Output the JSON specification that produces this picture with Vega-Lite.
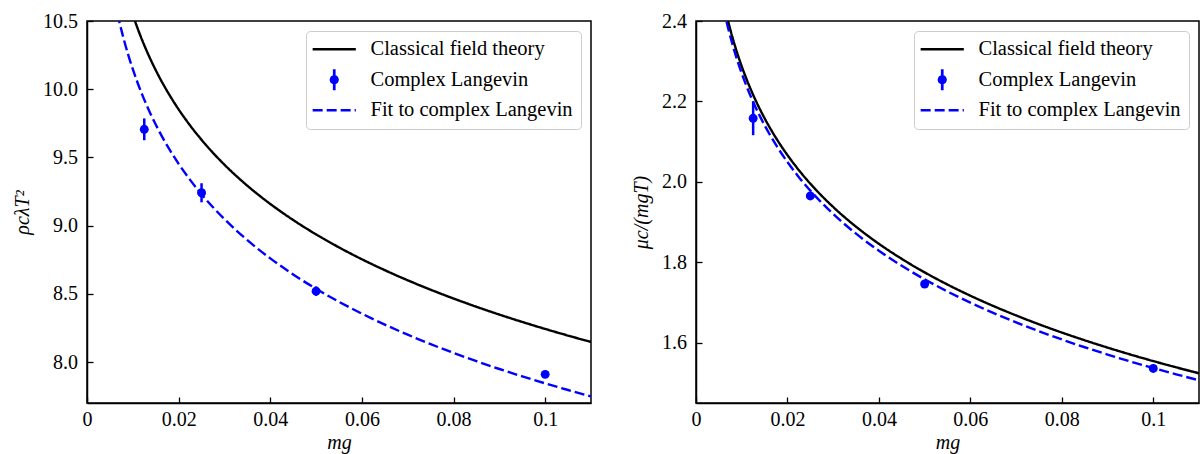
{
  "$schema": "https://vega.github.io/schema/vega-lite/v6.json",
  "background": "white",
  "padding": {"left": 11, "top": 10, "right": 0, "bottom": 0},
  "config": {
    "font": "Liberation Serif",
    "view": {"stroke": "black", "strokeWidth": 1.5},
    "axis": {"domainColor": "black", "domainWidth": 1.5, "tickColor": "black", "tickWidth": 1.3, "tickSize": -6, "labelFont": "Liberation Serif", "labelFontSize": 20, "labelColor": "black", "titleFont": "Liberation Serif", "titleFontSize": 20, "titleFontWeight": "normal", "titleFontStyle": "italic", "titleColor": "black", "grid": false, "labelFlush": false, "labelOverlap": false},
    "axisX": {"labelPadding": 12.5, "titlePadding": 3},
    "axisY": {"labelPadding": 15.5, "titlePadding": 10},
    "legend": {"labelFont": "Liberation Serif", "labelFontSize": 20.5, "labelColor": "black", "strokeColor": "#cccccc", "fillColor": "rgba(255,255,255,0.8)", "cornerRadius": 4, "labelLimit": 400}
  },
  "datasets": {
    "leftCurves": [
      {"mg":0.006,"y":11.0562,"series":"Classical field theory"},{"mg":0.007,"y":10.902,"series":"Classical field theory"},{"mg":0.008,"y":10.7685,"series":"Classical field theory"},{"mg":0.009,"y":10.6507,"series":"Classical field theory"},{"mg":0.01,"y":10.5453,"series":"Classical field theory"},{"mg":0.011,"y":10.45,"series":"Classical field theory"},{"mg":0.012,"y":10.363,"series":"Classical field theory"},{"mg":0.013,"y":10.283,"series":"Classical field theory"},{"mg":0.014,"y":10.2089,"series":"Classical field theory"},{"mg":0.015,"y":10.1399,"series":"Classical field theory"},{"mg":0.016,"y":10.0753,"series":"Classical field theory"},{"mg":0.018,"y":9.9576,"series":"Classical field theory"},{"mg":0.02,"y":9.8522,"series":"Classical field theory"},{"mg":0.0225,"y":9.7344,"series":"Classical field theory"},{"mg":0.025,"y":9.6291,"series":"Classical field theory"},{"mg":0.0275,"y":9.5337,"series":"Classical field theory"},{"mg":0.03,"y":9.4467,"series":"Classical field theory"},{"mg":0.035,"y":9.2926,"series":"Classical field theory"},{"mg":0.04,"y":9.1591,"series":"Classical field theory"},{"mg":0.045,"y":9.0413,"series":"Classical field theory"},{"mg":0.05,"y":8.9359,"series":"Classical field theory"},{"mg":0.055,"y":8.8406,"series":"Classical field theory"},{"mg":0.06,"y":8.7536,"series":"Classical field theory"},{"mg":0.065,"y":8.6735,"series":"Classical field theory"},{"mg":0.07,"y":8.5994,"series":"Classical field theory"},{"mg":0.075,"y":8.5304,"series":"Classical field theory"},{"mg":0.08,"y":8.4659,"series":"Classical field theory"},{"mg":0.085,"y":8.4053,"series":"Classical field theory"},{"mg":0.09,"y":8.3481,"series":"Classical field theory"},{"mg":0.095,"y":8.2941,"series":"Classical field theory"},{"mg":0.1,"y":8.2428,"series":"Classical field theory"},{"mg":0.105,"y":8.194,"series":"Classical field theory"},{"mg":0.11,"y":8.1474,"series":"Classical field theory"},
      {"mg":0.006,"y":10.6573,"series":"Fit to complex Langevin"},{"mg":0.007,"y":10.5031,"series":"Fit to complex Langevin"},{"mg":0.008,"y":10.3696,"series":"Fit to complex Langevin"},{"mg":0.009,"y":10.2518,"series":"Fit to complex Langevin"},{"mg":0.01,"y":10.1464,"series":"Fit to complex Langevin"},{"mg":0.011,"y":10.0511,"series":"Fit to complex Langevin"},{"mg":0.012,"y":9.9641,"series":"Fit to complex Langevin"},{"mg":0.013,"y":9.8841,"series":"Fit to complex Langevin"},{"mg":0.014,"y":9.81,"series":"Fit to complex Langevin"},{"mg":0.015,"y":9.741,"series":"Fit to complex Langevin"},{"mg":0.016,"y":9.6764,"series":"Fit to complex Langevin"},{"mg":0.018,"y":9.5586,"series":"Fit to complex Langevin"},{"mg":0.02,"y":9.4533,"series":"Fit to complex Langevin"},{"mg":0.0225,"y":9.3355,"series":"Fit to complex Langevin"},{"mg":0.025,"y":9.2301,"series":"Fit to complex Langevin"},{"mg":0.0275,"y":9.1348,"series":"Fit to complex Langevin"},{"mg":0.03,"y":9.0478,"series":"Fit to complex Langevin"},{"mg":0.035,"y":8.8937,"series":"Fit to complex Langevin"},{"mg":0.04,"y":8.7601,"series":"Fit to complex Langevin"},{"mg":0.045,"y":8.6424,"series":"Fit to complex Langevin"},{"mg":0.05,"y":8.537,"series":"Fit to complex Langevin"},{"mg":0.055,"y":8.4417,"series":"Fit to complex Langevin"},{"mg":0.06,"y":8.3547,"series":"Fit to complex Langevin"},{"mg":0.065,"y":8.2746,"series":"Fit to complex Langevin"},{"mg":0.07,"y":8.2005,"series":"Fit to complex Langevin"},{"mg":0.075,"y":8.1315,"series":"Fit to complex Langevin"},{"mg":0.08,"y":8.067,"series":"Fit to complex Langevin"},{"mg":0.085,"y":8.0064,"series":"Fit to complex Langevin"},{"mg":0.09,"y":7.9492,"series":"Fit to complex Langevin"},{"mg":0.095,"y":7.8951,"series":"Fit to complex Langevin"},{"mg":0.1,"y":7.8438,"series":"Fit to complex Langevin"},{"mg":0.105,"y":7.7951,"series":"Fit to complex Langevin"},{"mg":0.11,"y":7.7485,"series":"Fit to complex Langevin"}
    ],
    "leftPoints": [
      {"mg":0.0125,"y":9.706,"lo":9.626,"hi":9.786,"series":"Complex Langevin"},
      {"mg":0.025,"y":9.241,"lo":9.171,"hi":9.311,"series":"Complex Langevin"},
      {"mg":0.05,"y":8.52,"lo":8.485,"hi":8.555,"series":"Complex Langevin"},
      {"mg":0.1,"y":7.91,"lo":7.895,"hi":7.925,"series":"Complex Langevin"}
    ],
    "rightCurves": [
      {"mg":0.006,"y":2.44978,"series":"Classical field theory"},{"mg":0.007,"y":2.40072,"series":"Classical field theory"},{"mg":0.008,"y":2.35821,"series":"Classical field theory"},{"mg":0.009,"y":2.32072,"series":"Classical field theory"},{"mg":0.01,"y":2.28718,"series":"Classical field theory"},{"mg":0.011,"y":2.25685,"series":"Classical field theory"},{"mg":0.012,"y":2.22915,"series":"Classical field theory"},{"mg":0.013,"y":2.20367,"series":"Classical field theory"},{"mg":0.014,"y":2.18008,"series":"Classical field theory"},{"mg":0.015,"y":2.15812,"series":"Classical field theory"},{"mg":0.016,"y":2.13758,"series":"Classical field theory"},{"mg":0.018,"y":2.10008,"series":"Classical field theory"},{"mg":0.02,"y":2.06655,"series":"Classical field theory"},{"mg":0.0225,"y":2.02905,"series":"Classical field theory"},{"mg":0.025,"y":1.99552,"series":"Classical field theory"},{"mg":0.0275,"y":1.96518,"series":"Classical field theory"},{"mg":0.03,"y":1.93748,"series":"Classical field theory"},{"mg":0.035,"y":1.88842,"series":"Classical field theory"},{"mg":0.04,"y":1.84591,"series":"Classical field theory"},{"mg":0.045,"y":1.80842,"series":"Classical field theory"},{"mg":0.05,"y":1.77488,"series":"Classical field theory"},{"mg":0.055,"y":1.74454,"series":"Classical field theory"},{"mg":0.06,"y":1.71685,"series":"Classical field theory"},{"mg":0.065,"y":1.69137,"series":"Classical field theory"},{"mg":0.07,"y":1.66778,"series":"Classical field theory"},{"mg":0.075,"y":1.64582,"series":"Classical field theory"},{"mg":0.08,"y":1.62528,"series":"Classical field theory"},{"mg":0.085,"y":1.60598,"series":"Classical field theory"},{"mg":0.09,"y":1.58779,"series":"Classical field theory"},{"mg":0.095,"y":1.57057,"series":"Classical field theory"},{"mg":0.1,"y":1.55425,"series":"Classical field theory"},{"mg":0.105,"y":1.53871,"series":"Classical field theory"},{"mg":0.11,"y":1.5239,"series":"Classical field theory"},
      {"mg":0.006,"y":2.43244,"series":"Fit to complex Langevin"},{"mg":0.007,"y":2.38338,"series":"Fit to complex Langevin"},{"mg":0.008,"y":2.34087,"series":"Fit to complex Langevin"},{"mg":0.009,"y":2.30338,"series":"Fit to complex Langevin"},{"mg":0.01,"y":2.26984,"series":"Fit to complex Langevin"},{"mg":0.011,"y":2.23951,"series":"Fit to complex Langevin"},{"mg":0.012,"y":2.21181,"series":"Fit to complex Langevin"},{"mg":0.013,"y":2.18633,"series":"Fit to complex Langevin"},{"mg":0.014,"y":2.16274,"series":"Fit to complex Langevin"},{"mg":0.015,"y":2.14078,"series":"Fit to complex Langevin"},{"mg":0.016,"y":2.12024,"series":"Fit to complex Langevin"},{"mg":0.018,"y":2.08274,"series":"Fit to complex Langevin"},{"mg":0.02,"y":2.04921,"series":"Fit to complex Langevin"},{"mg":0.0225,"y":2.01171,"series":"Fit to complex Langevin"},{"mg":0.025,"y":1.97818,"series":"Fit to complex Langevin"},{"mg":0.0275,"y":1.94784,"series":"Fit to complex Langevin"},{"mg":0.03,"y":1.92014,"series":"Fit to complex Langevin"},{"mg":0.035,"y":1.87108,"series":"Fit to complex Langevin"},{"mg":0.04,"y":1.82857,"series":"Fit to complex Langevin"},{"mg":0.045,"y":1.79108,"series":"Fit to complex Langevin"},{"mg":0.05,"y":1.75754,"series":"Fit to complex Langevin"},{"mg":0.055,"y":1.7272,"series":"Fit to complex Langevin"},{"mg":0.06,"y":1.69951,"series":"Fit to complex Langevin"},{"mg":0.065,"y":1.67403,"series":"Fit to complex Langevin"},{"mg":0.07,"y":1.65044,"series":"Fit to complex Langevin"},{"mg":0.075,"y":1.62848,"series":"Fit to complex Langevin"},{"mg":0.08,"y":1.60794,"series":"Fit to complex Langevin"},{"mg":0.085,"y":1.58864,"series":"Fit to complex Langevin"},{"mg":0.09,"y":1.57045,"series":"Fit to complex Langevin"},{"mg":0.095,"y":1.55323,"series":"Fit to complex Langevin"},{"mg":0.1,"y":1.53691,"series":"Fit to complex Langevin"},{"mg":0.105,"y":1.52137,"series":"Fit to complex Langevin"},{"mg":0.11,"y":1.50656,"series":"Fit to complex Langevin"}
    ],
    "rightPoints": [
      {"mg":0.0125,"y":2.158,"lo":2.116,"hi":2.2,"series":"Complex Langevin"},
      {"mg":0.025,"y":1.965,"lo":1.957,"hi":1.973,"series":"Complex Langevin"},
      {"mg":0.05,"y":1.746,"lo":1.741,"hi":1.751,"series":"Complex Langevin"},
      {"mg":0.1,"y":1.536,"lo":1.532,"hi":1.54,"series":"Complex Langevin"}
    ]
  },
  "spacing": 38,
  "resolve": {"scale": {"color": "independent", "strokeDash": "independent"}, "legend": {"color": "independent"}},
  "hconcat": [
    {
      "width": 504, "height": 382,
      "encoding": {
        "x": {"field": "mg", "type": "quantitative", "scale": {"domain": [0, 0.11], "nice": false, "zero": false}, "axis": {"title": "mg", "values": [0, 0.02, 0.04, 0.06, 0.08, 0.1], "format": "~g"}},
        "color": {"field": "series", "type": "nominal",
          "scale": {"domain": ["Classical field theory", "Complex Langevin", "Fit to complex Langevin"], "range": ["#000000", "#0000ff", "#0000ff"]},
          "legend": {"orient": "top-right", "offset": 10, "title": null, "symbolSize": 116.64, "symbolStrokeWidth": 2.4, "symbolOffset": 10, "labelOffset": 26, "padding": 8, "rowPadding": 5.5,
            "encode": {"symbols": {"update": {
              "shape": {"signal": "datum.value === 'Complex Langevin' ? 'M-0.62,0A0.62,0.62 0 1,0 0.62,0A0.62,0.62 0 1,0 -0.62,0ZM-0.03,-1.74L0.03,-1.74L0.03,1.74L-0.03,1.74Z' : 'M-4,0L4,0'"},
              "fill": {"signal": "datum.value === 'Complex Langevin' ? '#0000ff' : 'transparent'"},
              "stroke": {"signal": "datum.value === 'Classical field theory' ? '#000000' : '#0000ff'"},
              "strokeDash": {"signal": "datum.value === 'Fit to complex Langevin' ? [10, 4] : [1, 0]"},
              "opacity": {"value": 1}
            }}}
          }
        }
      },
      "layer": [
        {
          "data": {"name": "leftCurves"},
          "mark": {"type": "line", "strokeWidth": 2.4, "clip": true, "interpolate": "monotone"},
          "encoding": {
            "y": {"field": "y", "type": "quantitative", "scale": {"domain": [7.7, 10.5], "nice": false, "zero": false}, "axis": {"title": "ρcλT²", "values": [8, 8.5, 9, 9.5, 10, 10.5], "format": ".1f"}},
            "strokeDash": {"field": "series", "type": "nominal", "scale": {"domain": ["Classical field theory", "Fit to complex Langevin"], "range": [[1, 0], [10, 4]]}, "legend": null}
          }
        },
        {
          "data": {"name": "leftPoints"},
          "mark": {"type": "rule", "strokeWidth": 2.5},
          "encoding": {
            "y": {"field": "lo", "type": "quantitative", "title": "ρcλT²", "scale": {"domain": [7.7, 10.5], "nice": false, "zero": false}},
            "y2": {"field": "hi"}
          }
        },
        {
          "data": {"name": "leftPoints"},
          "mark": {"type": "point", "filled": true, "size": 80, "opacity": 1},
          "encoding": {
            "y": {"field": "y", "type": "quantitative", "title": "ρcλT²", "scale": {"domain": [7.7, 10.5], "nice": false, "zero": false}}
          }
        }
      ]
    },
    {
      "width": 503, "height": 382,
      "encoding": {
        "x": {"field": "mg", "type": "quantitative", "scale": {"domain": [0, 0.11], "nice": false, "zero": false}, "axis": {"title": "mg", "values": [0, 0.02, 0.04, 0.06, 0.08, 0.1], "format": "~g"}},
        "color": {"field": "series", "type": "nominal",
          "scale": {"domain": ["Classical field theory", "Complex Langevin", "Fit to complex Langevin"], "range": ["#000000", "#0000ff", "#0000ff"]},
          "legend": {"orient": "top-right", "offset": 10, "title": null, "symbolSize": 116.64, "symbolStrokeWidth": 2.4, "symbolOffset": 10, "labelOffset": 26, "padding": 8, "rowPadding": 5.5,
            "encode": {"symbols": {"update": {
              "shape": {"signal": "datum.value === 'Complex Langevin' ? 'M-0.62,0A0.62,0.62 0 1,0 0.62,0A0.62,0.62 0 1,0 -0.62,0ZM-0.03,-1.74L0.03,-1.74L0.03,1.74L-0.03,1.74Z' : 'M-4,0L4,0'"},
              "fill": {"signal": "datum.value === 'Complex Langevin' ? '#0000ff' : 'transparent'"},
              "stroke": {"signal": "datum.value === 'Classical field theory' ? '#000000' : '#0000ff'"},
              "strokeDash": {"signal": "datum.value === 'Fit to complex Langevin' ? [10, 4] : [1, 0]"},
              "opacity": {"value": 1}
            }}}
          }
        }
      },
      "layer": [
        {
          "data": {"name": "rightCurves"},
          "mark": {"type": "line", "strokeWidth": 2.4, "clip": true, "interpolate": "monotone"},
          "encoding": {
            "y": {"field": "y", "type": "quantitative", "scale": {"domain": [1.45, 2.4], "nice": false, "zero": false}, "axis": {"title": "μc/(mgT)", "values": [1.6, 1.8, 2.0, 2.2, 2.4], "format": ".1f"}},
            "strokeDash": {"field": "series", "type": "nominal", "scale": {"domain": ["Classical field theory", "Fit to complex Langevin"], "range": [[1, 0], [10, 4]]}, "legend": null}
          }
        },
        {
          "data": {"name": "rightPoints"},
          "mark": {"type": "rule", "strokeWidth": 2.5},
          "encoding": {
            "y": {"field": "lo", "type": "quantitative", "title": "μc/(mgT)", "scale": {"domain": [1.45, 2.4], "nice": false, "zero": false}},
            "y2": {"field": "hi"}
          }
        },
        {
          "data": {"name": "rightPoints"},
          "mark": {"type": "point", "filled": true, "size": 80, "opacity": 1},
          "encoding": {
            "y": {"field": "y", "type": "quantitative", "title": "μc/(mgT)", "scale": {"domain": [1.45, 2.4], "nice": false, "zero": false}}
          }
        }
      ]
    }
  ]
}
